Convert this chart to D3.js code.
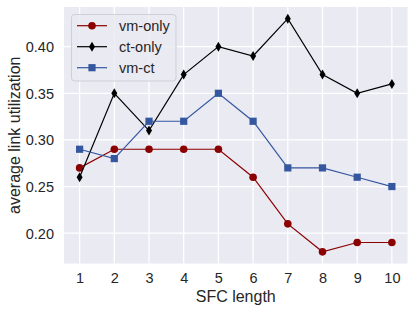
<!DOCTYPE html>
<html><head><meta charset="utf-8">
<script src="https://cdn.jsdelivr.net/npm/d3@7"></script>
<style>
html,body{margin:0;padding:0;background:#fff;}
svg{display:block;font-family:"Liberation Sans",Arial,sans-serif;}
</style></head>
<body><svg id="c" width="415" height="312"></svg>
<script>
const sfcLength = [1,2,3,4,5,6,7,8,9,10];
const vmOnly = [0.27,0.29,0.29,0.29,0.29,0.26,0.21,0.18,0.19,0.19];
const ctOnly = [0.26,0.35,0.31,0.37,0.40,0.39,0.43,0.37,0.35,0.36];
const vmCt   = [0.29,0.28,0.32,0.32,0.35,0.32,0.27,0.27,0.26,0.25];
const yTicks = [0.20,0.25,0.30,0.35,0.40];
const seriesNames = ["vm-only","ct-only","vm-ct"];

const series = [
  {name: seriesNames[0], values: vmOnly, color: "#8b0000", marker: "circle"},
  {name: seriesNames[1], values: ctOnly, color: "#000000", marker: "diamond"},
  {name: seriesNames[2], values: vmCt, color: "#3557a0", marker: "square"}
];

const svg = d3.select("#c");
const L = 64, R = 407.5, T = 7, B = 263.5;
const x = d3.scaleLinear().domain([0.55, 10.45]).range([L, R]);
const y = d3.scaleLinear().domain([0.1675, 0.4425]).range([B, T]);

svg.append("rect").attr("x", L).attr("y", T).attr("width", R-L).attr("height", B-T).attr("fill", "#eaeaf2");

const g = svg.append("g");
// grid
g.selectAll(".vg").data(sfcLength).join("line")
  .attr("x1", d=>x(d)).attr("x2", d=>x(d)).attr("y1", T).attr("y2", B)
  .attr("stroke", "#fff").attr("stroke-width", 1.3);
g.selectAll(".hg").data(yTicks).join("line")
  .attr("y1", d=>y(d)).attr("y2", d=>y(d)).attr("x1", L).attr("x2", R)
  .attr("stroke", "#fff").attr("stroke-width", 1.3);

// axes
const xAxis = d3.axisBottom(x).tickValues(sfcLength).tickSize(0).tickPadding(0).tickFormat(d3.format("d"));
const xa = svg.append("g").attr("transform", `translate(0,${B})`).call(xAxis);
xa.select(".domain").remove();
xa.selectAll("text").attr("font-size", "14.5px").attr("fill", "#262626").attr("dy", null).attr("y", 19.5)
  .attr("font-family", "Liberation Sans, Arial, sans-serif");

const yAxis = d3.axisLeft(y).tickValues(yTicks).tickSize(0).tickPadding(0).tickFormat(d3.format(".2f"));
const ya = svg.append("g").attr("transform", `translate(${L},0)`).call(yAxis);
ya.select(".domain").remove();
ya.selectAll("text").attr("font-size", "14.5px").attr("fill", "#262626").attr("x", -10).attr("dy", "0.35em")
  .attr("font-family", "Liberation Sans, Arial, sans-serif");

svg.append("text").attr("x", (L+R)/2).attr("y", 302).attr("text-anchor", "middle")
  .attr("font-size", "16px").attr("fill", "#262626").text("SFC length");
svg.append("text").attr("transform", `translate(20,${(T+B)/2}) rotate(-90)`).attr("text-anchor", "middle")
  .attr("font-size", "16px").attr("fill", "#262626").text("average link utilization");

const line = d3.line().x((d,i)=>x(sfcLength[i])).y(d=>y(d));

function drawMarker(sel, type, color, cx, cy) {
  if (type === "circle") {
    sel.append("circle").attr("cx", cx).attr("cy", cy).attr("r", 3.8).attr("fill", color);
  } else if (type === "square") {
    sel.append("rect").attr("x", cx-3.6).attr("y", cy-3.6).attr("width", 7.2).attr("height", 7.2).attr("fill", color);
  } else {
    sel.append("path").attr("d", `M${cx},${cy-5} L${cx+3},${cy} L${cx},${cy+5} L${cx-3},${cy} Z`).attr("fill", color);
  }
}

series.forEach(s => {
  const sg = svg.append("g");
  sg.append("path").datum(s.values).attr("d", line).attr("fill", "none")
    .attr("stroke", s.color).attr("stroke-width", 1.2);
  s.values.forEach((v,i) => drawMarker(sg, s.marker, s.color, x(sfcLength[i]), y(v)));
});

// legend
const lg = svg.append("g");
lg.append("rect").attr("x", 71.5).attr("y", 14.5).attr("width", 104.5).attr("height", 66.5)
  .attr("rx", 3).attr("fill", "#eaeaf2").attr("fill-opacity", 0.8).attr("stroke", "#cfcfd6").attr("stroke-width", 1);
series.forEach((s,i) => {
  const cy = 25.7 + i*21;
  lg.append("line").attr("x1", 77).attr("x2", 107).attr("y1", cy).attr("y2", cy)
    .attr("stroke", s.color).attr("stroke-width", 1.2);
  drawMarker(lg, s.marker, s.color, 92, cy);
  lg.append("text").attr("x", 119).attr("y", cy).attr("dy", "0.35em").attr("font-size", "14.5px")
    .attr("fill", "#262626").text(s.name);
});
</script></body></html>
